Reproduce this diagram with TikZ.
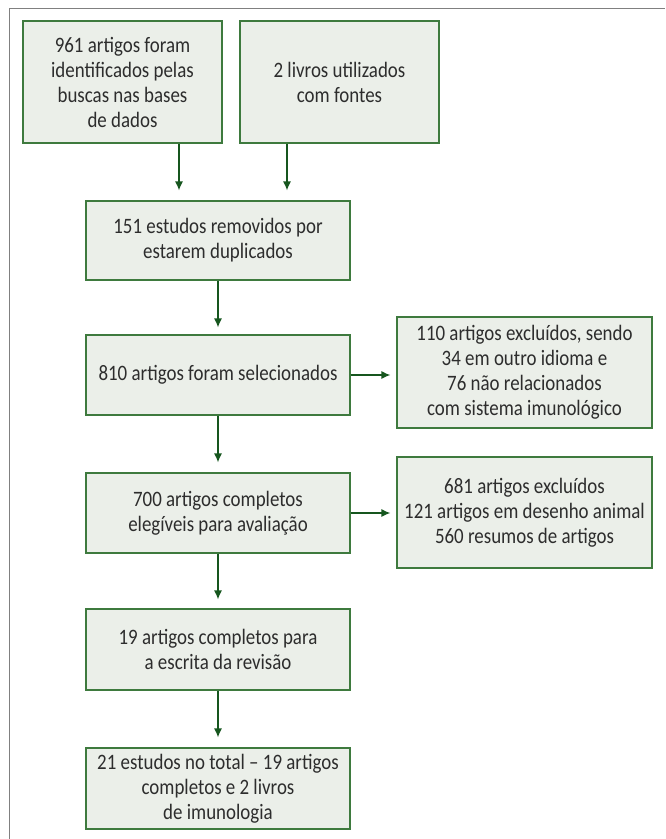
\documentclass[tikz,border=0pt]{standalone}
\usepackage{fontspec}
\setmainfont{Carlito}[FakeStretch=0.86]
\usetikzlibrary{arrows.meta}

\definecolor{boxfill}{RGB}{235,239,233}
\definecolor{boxline}{RGB}{62,122,62}
\definecolor{flowgreen}{RGB}{22,86,30}
\definecolor{txtgray}{RGB}{45,45,45}
\definecolor{framegray}{RGB}{128,128,128}

\tikzset{
    stage/.style={draw=boxline,fill=boxfill,line width=1.2pt,align=center,
        inner sep=2pt,text=txtgray,font=\fontsize{22}{25}\selectfont},
    flow/.style={draw=flowgreen,line width=1.2pt,-{Latex[length=9pt,width=8pt]}}
}

\begin{document}
\begin{tikzpicture}[x=1pt,y=-1pt]
    \useasboundingbox (0,0) rectangle (665,839);
    \draw [framegray,line width=1.6pt] (9.5,839) -- (9.5,8.5) -- (665,8.5);

    % sources
    \node[stage,minimum width=199pt,minimum height=122pt] (src1) at (122.5,82)
        {961 artigos foram\\identificados pelas\\buscas nas bases\\de dados};
    \node[stage,minimum width=199pt,minimum height=122pt] (src2) at (339.5,82)
        {2 livros utilizados\\com fontes};

    % main column
    \node[stage,minimum width=264pt,minimum height=79pt] (dup) at (218,240.5)
        {151 estudos removidos por\\estarem duplicados};
    \node[stage,minimum width=264pt,minimum height=80pt] (sel) at (218,375)
        {810 artigos foram selecionados};
    \node[stage,minimum width=264pt,minimum height=80pt] (full) at (218,513)
        {700 artigos completos\\eleg\'iveis para avalia\c{c}\~ao};
    \node[stage,minimum width=264pt,minimum height=81pt] (rev) at (218,649.5)
        {19 artigos completos para\\a escrita da revis\~ao};
    \node[stage,minimum width=264pt,minimum height=81pt] (total) at (218,788.5)
        {21 estudos no total -- 19 artigos\\completos e 2 livros\\de imunologia};

    % exclusions
    \node[stage,minimum width=255pt,minimum height=111pt] (excl1) at (524.5,372.5)
        {110 artigos exclu\'idos, sendo\\34 em outro idioma e\\76 n\~ao relacionados\\com sistema imunol\'ogico};
    \node[stage,minimum width=255pt,minimum height=111pt] (excl2) at (524.5,512.5)
        {681 artigos exclu\'idos\\121 artigos em desenho animal\\560 resumos de artigos};

    \draw [flow,shorten >=10pt] ([xshift=56.5pt]src1.south)
        -- ([xshift=56.5pt]src1.south |- dup.north);
    \draw [flow,shorten >=10pt] ([xshift=-52.5pt]src2.south)
        -- ([xshift=-52.5pt]src2.south |- dup.north);
    \draw [flow,shorten >=7pt] (dup) -- (sel);
    \draw [flow,shorten >=10pt] (sel) -- (full);
    \draw [flow,shorten >=9pt] (full) -- (rev);
    \draw [flow,shorten >=10pt] (rev) -- (total);
    \draw [flow,shorten >=6pt] (sel) -- (sel -| excl1.west);
    \draw [flow,shorten >=6pt] (full) -- (full -| excl2.west);
\end{tikzpicture}
\end{document}
